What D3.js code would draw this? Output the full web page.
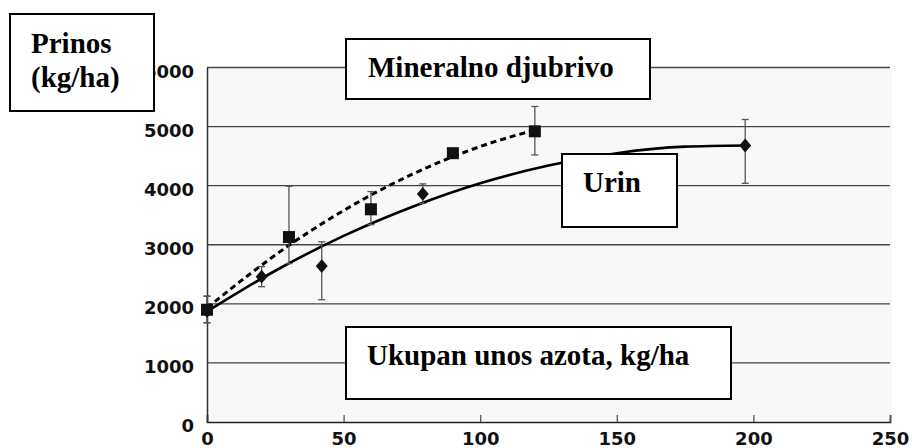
<!DOCTYPE html>
<html lang="sr">
  <head>
    <meta charset="utf-8">
    <title>Prinos i unos azota</title>
    <script src="https://cdnjs.cloudflare.com/ajax/libs/d3/7.8.5/d3.min.js"></script>
    <style>
      body { margin: 0; background: #fff; }
      .tick text { font-family: "DejaVu Sans", sans-serif; font-weight: bold; font-size: 18px; fill: #111; }
      .box rect { fill: #fff; stroke: #000; stroke-width: 2; }
      .box text { font-family: "Liberation Serif", "Times New Roman", serif; font-weight: bold; font-size: 29px; fill: #000; }
    </style>
  </head>
  <body>
    <script>
      // measured points (kg/ha)
      const mineralX = [0, 30, 60, 90, 120];
      const mineralY = [1900, 3130, 3600, 4550, 4920];
      const mineralLo = [1680, 2680, 3340, null, 4520];
      const mineralHi = [2130, 3990, 3900, null, 5340];

      const urineX = [0, 20, 42, 79, 197];
      const urineY = [1880, 2460, 2640, 3860, 4680];
      const urineLo = [1680, 2290, 2070, 3700, 4040];
      const urineHi = [2130, 2630, 3050, 4030, 5120];

      // fitted curves
      const mineralFitX = [0, 15, 30, 45, 60, 75, 90, 105, 120];
      const mineralFitY = [1930, 2480, 2990, 3440, 3840, 4190, 4490, 4740, 4940];
      const urineFitX = [0, 25, 50, 75, 100, 125, 150, 175, 197];
      const urineFitY = [1870, 2560, 3150, 3640, 4040, 4340, 4550, 4660, 4680];

      const xTicks = [0, 50, 100, 150, 200, 250];
      const yTicks = [0, 1000, 2000, 3000, 4000, 5000, 6000];

      const w = 912, h = 448;
      const plotLeft = 207, plotRight = 890, plotTop = 67.5, plotBottom = 422;

      const x = d3.scaleLinear().domain([0, 250]).range([plotLeft, plotRight]);
      const y = d3.scaleLinear().domain([0, 6000]).range([plotBottom, plotTop]);

      const svg = d3.select("body").append("svg")
        .attr("width", w)
        .attr("height", h);

      // light plot background
      svg.append("rect")
        .attr("x", plotLeft).attr("y", plotTop)
        .attr("width", plotRight - plotLeft + 2).attr("height", plotBottom - plotTop)
        .attr("fill", "#f8f8f8");

      // gridlines
      svg.append("g").selectAll("line")
        .data(yTicks.filter(d => d > 0))
        .enter().append("line")
        .attr("x1", plotLeft).attr("x2", plotRight)
        .attr("y1", d => y(d)).attr("y2", d => y(d))
        .attr("stroke", "#444")
        .attr("stroke-width", 1.3);

      // axes
      const xAxis = d3.axisBottom(x).tickValues(xTicks).tickFormat(d3.format("d"))
        .tickSize(-7).tickPadding(10);
      const gx = svg.append("g")
        .attr("transform", "translate(0," + plotBottom + ")")
        .call(xAxis);
      gx.select(".domain").attr("stroke", "#222").attr("stroke-width", 1.6);
      gx.selectAll(".tick line").attr("stroke", "#555").attr("stroke-width", 1.3);

      const yAxis = d3.axisLeft(y).tickValues(yTicks).tickFormat(d3.format("d"))
        .tickSize(0).tickPadding(13);
      const gy = svg.append("g")
        .attr("transform", "translate(" + plotLeft + ",0)")
        .call(yAxis);
      gy.select(".domain").attr("stroke", "#333").attr("stroke-width", 1.5);
      gy.selectAll(".tick text").attr("dy", "0.55em");

      // curves
      const line = d3.line()
        .x(d => x(d[0]))
        .y(d => y(d[1]))
        .curve(d3.curveMonotoneX);

      svg.append("path")
        .datum(urineFitX.map((v, i) => [v, urineFitY[i]]))
        .attr("d", line)
        .attr("fill", "none")
        .attr("stroke", "#000")
        .attr("stroke-width", 2.6);

      svg.append("path")
        .datum(mineralFitX.map((v, i) => [v, mineralFitY[i]]))
        .attr("d", line)
        .attr("fill", "none")
        .attr("stroke", "#000")
        .attr("stroke-width", 3)
        .attr("stroke-dasharray", "6,4");

      // error bars
      function errorBars(xs, lo, hi) {
        const data = xs.map((v, i) => ({x: v, lo: lo[i], hi: hi[i]})).filter(d => d.lo != null);
        const g = svg.append("g").attr("stroke", "#555").attr("stroke-width", 1.3);
        g.selectAll(".v").data(data).enter().append("line")
          .attr("x1", d => x(d.x)).attr("x2", d => x(d.x))
          .attr("y1", d => y(d.lo)).attr("y2", d => y(d.hi));
        g.selectAll(".lo").data(data).enter().append("line")
          .attr("x1", d => x(d.x) - 3.5).attr("x2", d => x(d.x) + 3.5)
          .attr("y1", d => y(d.lo)).attr("y2", d => y(d.lo));
        g.selectAll(".hi").data(data).enter().append("line")
          .attr("x1", d => x(d.x) - 3.5).attr("x2", d => x(d.x) + 3.5)
          .attr("y1", d => y(d.hi)).attr("y2", d => y(d.hi));
      }
      errorBars(urineX, urineLo, urineHi);
      errorBars(mineralX, mineralLo, mineralHi);

      // diamonds (urin)
      svg.append("g").selectAll("path")
        .data(urineX.map((v, i) => [v, urineY[i]]))
        .enter().append("path")
        .attr("d", d3.symbol(d3.symbolDiamond2, 100))
        .attr("transform", d => "translate(" + x(d[0]) + "," + y(d[1]) + ") scale(0.95,1.1)")
        .attr("fill", "#111");

      // squares (mineralno djubrivo)
      svg.append("g").selectAll("rect")
        .data(mineralX.map((v, i) => [v, mineralY[i]]))
        .enter().append("rect")
        .attr("x", d => x(d[0]) - 6)
        .attr("y", d => y(d[1]) - 6)
        .attr("width", 12).attr("height", 12)
        .attr("fill", "#111");

      // label boxes
      function box(x0, y0, x1, y1, lines) {
        const g = svg.append("g").attr("class", "box");
        g.append("rect")
          .attr("x", x0).attr("y", y0)
          .attr("width", x1 - x0).attr("height", y1 - y0);
        lines.forEach(l => {
          g.append("text").attr("x", l[0]).attr("y", l[1]).text(l[2]);
        });
      }
      box(10, 14, 154, 111, [[31, 53, "Prinos"], [31, 87, "(kg/ha)"]]);
      box(346, 39, 650, 99, [[368, 77, "Mineralno djubrivo"]]);
      box(562, 154, 677, 227, [[583, 192, "Urin"]]);
      box(346, 327, 731, 399, [[367, 365, "Ukupan unos azota, kg/ha"]]);
    </script>
  </body>
</html>
